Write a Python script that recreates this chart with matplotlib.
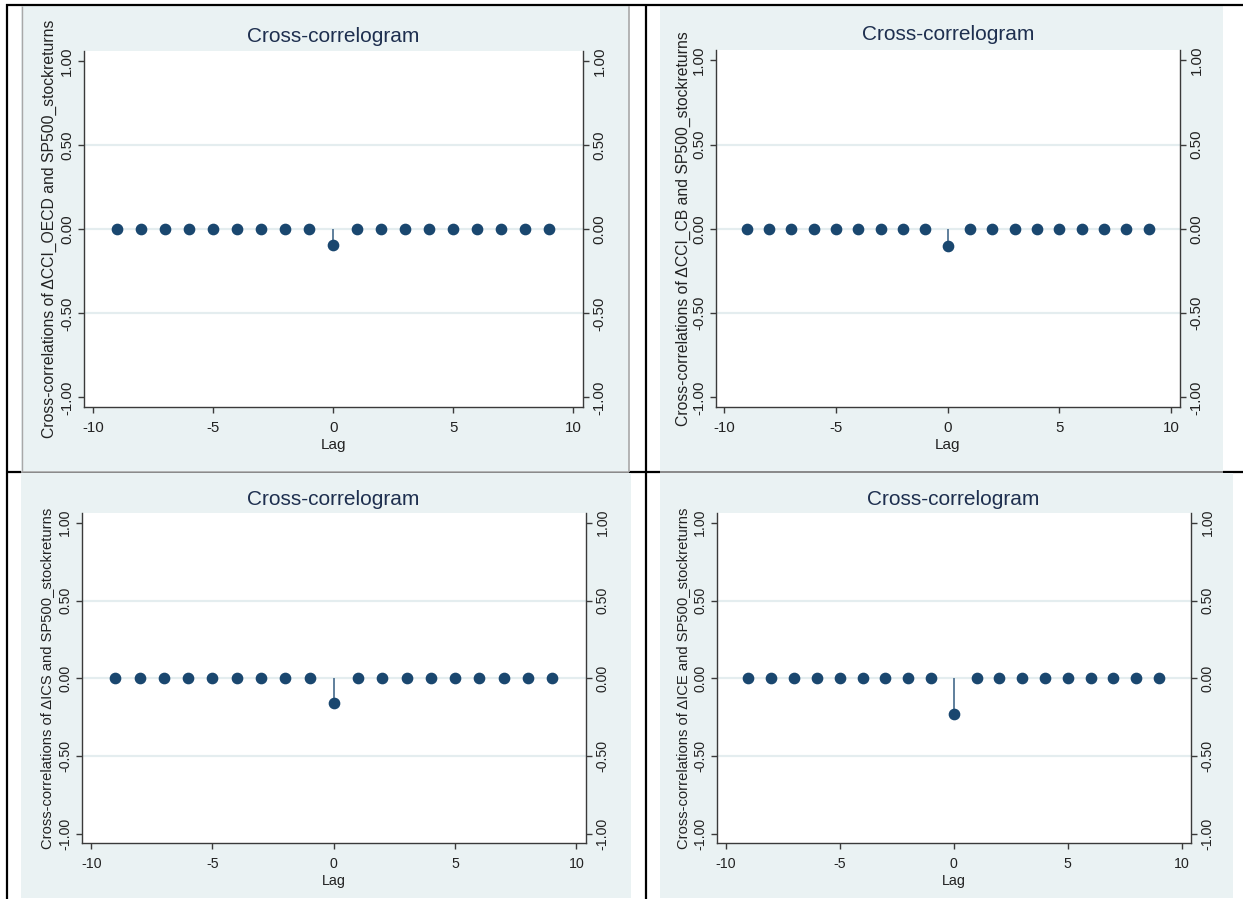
import matplotlib
matplotlib.use("Agg")
import matplotlib.pyplot as plt
from matplotlib.patches import Rectangle
from matplotlib.lines import Line2D

plt.rcParams["font.family"] = ["Liberation Sans", "DejaVu Sans"]

# ---- data -------------------------------------------------------------
lags = [-9, -8, -7, -6, -5, -4, -3, -2, -1, 0, 1, 2, 3, 4, 5, 6, 7, 8, 9]
ccf_cci_oecd = [0, 0, 0, 0, 0, 0, 0, 0, 0, -0.09, 0, 0, 0, 0, 0, 0, 0, 0, 0]
ccf_cci_cb = [0, 0, 0, 0, 0, 0, 0, 0, 0, -0.10, 0, 0, 0, 0, 0, 0, 0, 0, 0]
ccf_ics = [0, 0, 0, 0, 0, 0, 0, 0, 0, -0.16, 0, 0, 0, 0, 0, 0, 0, 0, 0]
ccf_ice = [0, 0, 0, 0, 0, 0, 0, 0, 0, -0.23, 0, 0, 0, 0, 0, 0, 0, 0, 0]

ylabels = [
    "Cross-correlations of \u0394CCI_OECD and SP500_stockreturns",
    "Cross-correlations of \u0394CCI_CB and SP500_stockreturns",
    "Cross-correlations of \u0394ICS and SP500_stockreturns",
    "Cross-correlations of \u0394ICE and SP500_stockreturns",
]
title = "Cross-correlogram"
xticks = [-10, -5, 0, 5, 10]
yticks = [-1.0, -0.5, 0.0, 0.5, 1.0]
yticklabels = ["-1.00", "-0.50", "0.00", "0.50", "1.00"]
xlabel = "Lag"

# ---- styling ----------------------------------------------------------
W, H = 1243, 899
BG = "#eaf2f3"
NAVY = "#1a476f"
SPIKE = "#5f7f9c"
TITLE_C = "#1e2f4f"
AX_C = "#3a3a3a"
GRID_C = "#e4edef"

fig = plt.figure(figsize=(W / 100, H / 100), dpi=100)
fig.patch.set_facecolor("white")


def fx(x):
    return x / W


def fy(y):
    return 1 - y / H


def hline(y, x0, x1, color, lw, z):
    fig.add_artist(Line2D([fx(x0), fx(x1)], [fy(y), fy(y)], transform=fig.transFigure,
                          color=color, lw=lw, zorder=z, solid_capstyle="butt"))


def vline(x, y0, y1, color, lw, z):
    fig.add_artist(Line2D([fx(x), fx(x)], [fy(y0), fy(y1)], transform=fig.transFigure,
                          color=color, lw=lw, zorder=z, solid_capstyle="butt"))


def rect(x0, y0, x1, y1):
    fig.add_artist(Rectangle((fx(x0), fy(y1)), (x1 - x0) / W, (y1 - y0) / H,
                             transform=fig.transFigure, facecolor=BG,
                             edgecolor="none", zorder=-5))


# table grid behind the four graphs
hline(472, 6, W, "black", 1.6, -10)
hline(5, 6, W, "black", 1.6, -4)
vline(7, 4, H, "black", 1.6, -4)
vline(646, 4, H, "black", 1.6, -4)

# graph backgrounds
rect(21, 6, 629, 472)
rect(660, 6, 1223, 471)
rect(21, 473, 631, 898)
rect(660, 473, 1233, 898)
# frame edges of the pasted graphs
vline(21.5, 6, 472, "#a8a8a8", 1.0, -3)
vline(628.5, 6, 472, "#a8a8a8", 1.2, -3)
hline(472, 21, 629, "#a8a8a8", 1.2, -3)
hline(472, 660, 1223, "#a8a8a8", 1.2, -3)

panels = [
    # (left, right, top, bottom) plot region, title centre, ylabel x, data, font scale
    dict(box=(84, 583, 51, 407), ttl=(333, 37), ylx=49, data=ccf_cci_oecd, lab=ylabels[0], s=1.0),
    dict(box=(716, 1180, 50, 407), ttl=(948, 35), ylx=683, data=ccf_cci_cb, lab=ylabels[1], s=1.0),
    dict(box=(82, 586, 513, 843), ttl=(333, 500), ylx=47, data=ccf_ics, lab=ylabels[2], s=0.94),
    dict(box=(717, 1191, 513, 843), ttl=(953, 500), ylx=683, data=ccf_ice, lab=ylabels[3], s=0.94),
]

for p in panels:
    l, r, t, b = p["box"]
    s = p["s"]
    ax = fig.add_axes([fx(l), fy(b), (r - l) / W, (b - t) / H])
    ax.set_facecolor("white")
    ax.set_xlim(-10.38, 10.4)
    ax.set_ylim(-1.057, 1.062)

    for g in (-0.5, 0.0, 0.5):
        ax.axhline(g, color=GRID_C, lw=1.6, zorder=1)

    ax.vlines(lags, 0, p["data"], color=SPIKE, lw=1.4, zorder=2)
    ax.plot(lags, p["data"], "o", ms=7.4, color=NAVY, mec=NAVY, zorder=3, clip_on=False)

    for side in ("left", "right", "bottom"):
        ax.spines[side].set_color(AX_C)
        ax.spines[side].set_linewidth(1.0)
    ax.spines["top"].set_visible(False)

    ax.set_xticks(xticks)
    ax.set_xticklabels([str(v) for v in xticks])
    ax.set_yticks(yticks)
    ax.set_yticklabels(yticklabels)
    ax.tick_params(axis="x", direction="out", length=4, width=1, color=AX_C,
                   labelsize=10.8 * s, pad=6, labelcolor="#222222")
    ax.tick_params(axis="y", direction="out", length=4, width=1, color=AX_C,
                   left=True, right=True, labelleft=True, labelright=True,
                   labelrotation=90, labelsize=10.8 * s, pad=3, labelcolor="#222222")
    for tk in ax.yaxis.get_major_ticks():
        tk.label1.set_va("center")
        tk.label2.set_va("center")

    ax.set_xlabel(xlabel, fontsize=11 * s, color="#222222", labelpad=2)
    ax.set_ylabel(p["lab"], fontsize=11.3 * s, color="#222222")
    ax.yaxis.label.set_va("center")
    ax.yaxis.set_label_coords((p["ylx"] - l) / (r - l), 0.5)

    fig.text(fx(p["ttl"][0]), fy(p["ttl"][1]), title, ha="center", va="center",
             fontsize=15, color=TITLE_C)

fig.savefig("out.png", dpi=100)
